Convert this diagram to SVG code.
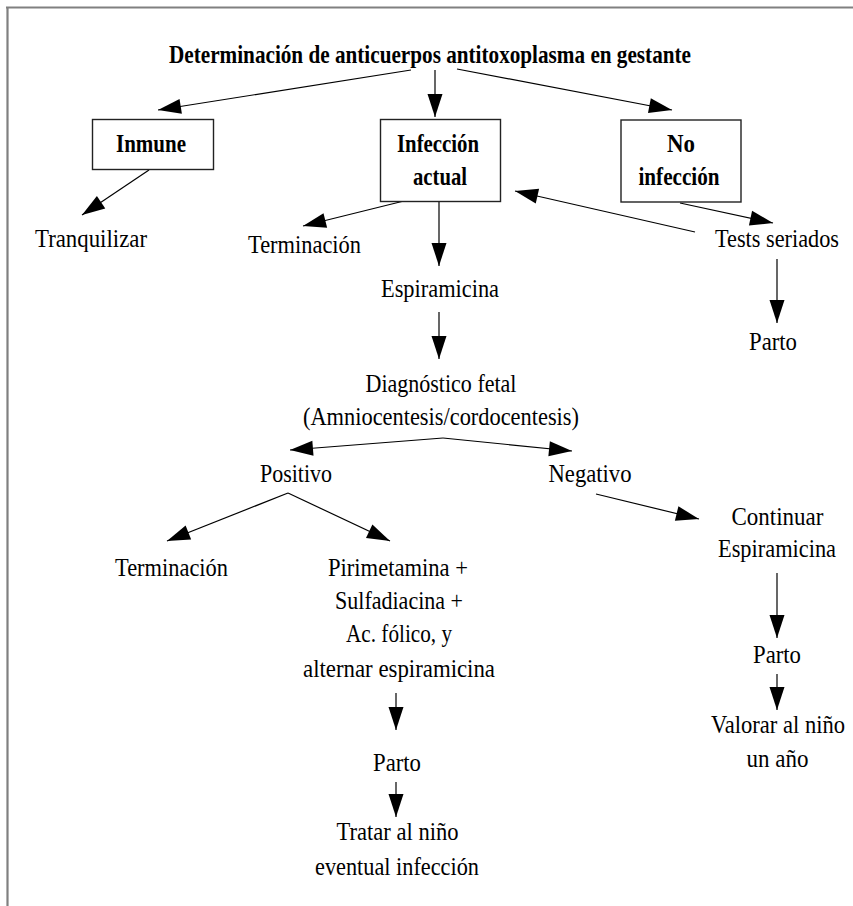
<svg xmlns="http://www.w3.org/2000/svg" width="853" height="906" viewBox="0 0 853 906">
<style>
.t{font-family:"Liberation Serif","Times New Roman",serif;font-size:26px;text-anchor:middle;fill:#000}
.b{font-weight:bold;font-size:25px}
.box{fill:#fff;stroke:#222;stroke-width:1.4}
.frame{fill:none;stroke:#808080;stroke-width:2.2}
#connectors line{stroke:#000;stroke-width:1.2;marker-end:url(#ah)}
</style>
<defs>
<marker id="ah" markerUnits="userSpaceOnUse" markerWidth="23" markerHeight="15" refX="23" refY="7.5" orient="auto" overflow="visible">
<path d="M0,0 L23,7.5 L0,15 Z" fill="#000"/>
</marker>
</defs>
<rect width="853" height="906" fill="#fff"/>
<path class="frame" d="M6,7.5 H853 M7.5,6.5 V906"/>

<g id="connectors">
<line x1="411" y1="70" x2="158" y2="110"/>
<line x1="435" y1="70" x2="435" y2="117"/>
<line x1="457" y1="69" x2="672" y2="110"/>
<line x1="149" y1="170" x2="82" y2="215"/>
<line x1="412" y1="199" x2="303" y2="226"/>
<line x1="439" y1="201" x2="439" y2="266"/>
<line x1="695" y1="232" x2="515" y2="191"/>
<line x1="680" y1="203" x2="773" y2="223"/>
<line x1="777" y1="259" x2="777" y2="323"/>
<line x1="439" y1="312" x2="439" y2="359"/>
<line x1="443" y1="438" x2="290" y2="450"/>
<line x1="443" y1="438" x2="572" y2="451"/>
<line x1="288" y1="493" x2="167" y2="541"/>
<line x1="288" y1="493" x2="390" y2="541"/>
<line x1="596" y1="494" x2="699" y2="519"/>
<line x1="396" y1="693" x2="396" y2="730"/>
<line x1="396" y1="782" x2="396" y2="817"/>
<line x1="777" y1="573" x2="777" y2="638"/>
<line x1="777" y1="674" x2="777" y2="710"/>
</g>

<g id="title"><text class="t b" x="430" y="63" textLength="522" lengthAdjust="spacingAndGlyphs">Determinación de anticuerpos antitoxoplasma en gestante</text></g>

<g id="inmune">
<rect class="box" x="92.5" y="119.5" width="121" height="50"/>
<text class="t b" x="151" y="152" textLength="70" lengthAdjust="spacingAndGlyphs">Inmune</text>
</g>
<g id="infeccion-actual">
<rect class="box" x="380.5" y="119.5" width="120" height="82"/>
<text class="t b" x="438" y="152" textLength="82" lengthAdjust="spacingAndGlyphs">Infección</text>
<text class="t b" x="440" y="185" textLength="54" lengthAdjust="spacingAndGlyphs">actual</text>
</g>
<g id="no-infeccion">
<rect class="box" x="621" y="120" width="120" height="82"/>
<text class="t b" x="681" y="152" textLength="28" lengthAdjust="spacingAndGlyphs">No</text>
<text class="t b" x="679" y="185" textLength="81" lengthAdjust="spacingAndGlyphs">infección</text>
</g>

<g id="tranquilizar"><text class="t" x="91" y="247" textLength="112" lengthAdjust="spacingAndGlyphs">Tranquilizar</text></g>
<g id="terminacion1"><text class="t" x="304.5" y="253" textLength="113" lengthAdjust="spacingAndGlyphs">Terminación</text></g>
<g id="espiramicina"><text class="t" x="440" y="297" textLength="118" lengthAdjust="spacingAndGlyphs">Espiramicina</text></g>
<g id="tests-seriados"><text class="t" x="777" y="247" textLength="124" lengthAdjust="spacingAndGlyphs">Tests seriados</text></g>
<g id="parto1"><text class="t" x="773" y="350" textLength="48" lengthAdjust="spacingAndGlyphs">Parto</text></g>
<g id="diagnostico">
<text class="t" x="441" y="392" textLength="151" lengthAdjust="spacingAndGlyphs">Diagnóstico fetal</text>
<text class="t" x="441" y="425" textLength="276" lengthAdjust="spacingAndGlyphs">(Amniocentesis/cordocentesis)</text>
</g>
<g id="positivo"><text class="t" x="296" y="482" textLength="72" lengthAdjust="spacingAndGlyphs">Positivo</text></g>
<g id="negativo"><text class="t" x="590" y="482" textLength="83" lengthAdjust="spacingAndGlyphs">Negativo</text></g>
<g id="terminacion2"><text class="t" x="171.5" y="576" textLength="113" lengthAdjust="spacingAndGlyphs">Terminación</text></g>
<g id="tratamiento">
<text class="t" x="398" y="576" textLength="140" lengthAdjust="spacingAndGlyphs">Pirimetamina +</text>
<text class="t" x="399" y="609" textLength="128" lengthAdjust="spacingAndGlyphs">Sulfadiacina +</text>
<text class="t" x="399" y="642" textLength="106" lengthAdjust="spacingAndGlyphs">Ac. fólico, y</text>
<text class="t" x="399" y="677" textLength="192" lengthAdjust="spacingAndGlyphs">alternar espiramicina</text>
</g>
<g id="parto2"><text class="t" x="397" y="771" textLength="48" lengthAdjust="spacingAndGlyphs">Parto</text></g>
<g id="tratar">
<text class="t" x="397.5" y="840" textLength="122" lengthAdjust="spacingAndGlyphs">Tratar al niño</text>
<text class="t" x="397" y="875" textLength="164" lengthAdjust="spacingAndGlyphs">eventual infección</text>
</g>
<g id="continuar">
<text class="t" x="777.5" y="525" textLength="92" lengthAdjust="spacingAndGlyphs">Continuar</text>
<text class="t" x="777" y="557" textLength="118" lengthAdjust="spacingAndGlyphs">Espiramicina</text>
</g>
<g id="parto3"><text class="t" x="777" y="663" textLength="48" lengthAdjust="spacingAndGlyphs">Parto</text></g>
<g id="valorar">
<text class="t" x="778" y="733" textLength="134" lengthAdjust="spacingAndGlyphs">Valorar al niño</text>
<text class="t" x="777.5" y="767" textLength="62" lengthAdjust="spacingAndGlyphs">un año</text>
</g>
</svg>
